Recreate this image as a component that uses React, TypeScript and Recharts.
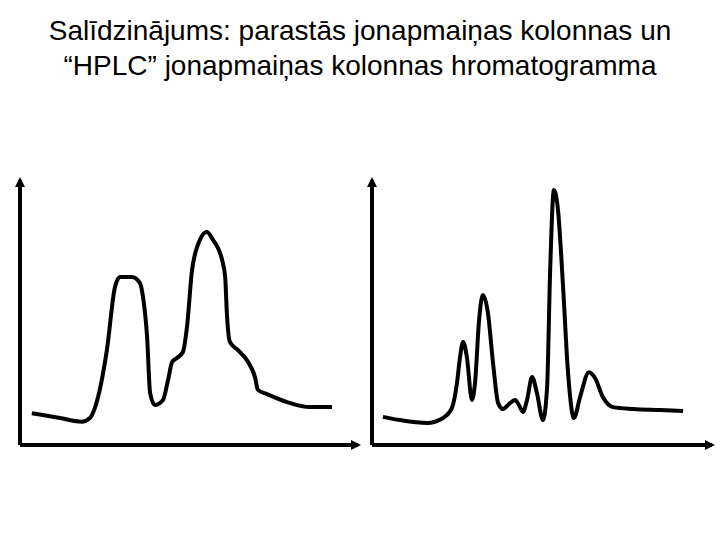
import { LineChart, Line, XAxis, YAxis } from "recharts"

// parastā jonapmaiņas kolonna (left)
const classicTime = [3.5, 11.8, 18.3, 20.7, 23.1, 25.7, 28.1, 29.6, 33.1, 35.5, 36.4, 37.6, 38.5, 39.9, 42.3, 43.8, 45.0, 46.4, 48.2, 49.4, 50.9, 52.4, 55.3, 57.1, 59.8, 60.7, 61.2, 62.1, 64.5, 67.5, 69.5, 70.4, 73.1, 79.0, 85.8, 92.3]
const classicSignal = [12.0, 10.2, 8.8, 10.2, 18.1, 35.8, 59.6, 63.4, 63.4, 61.1, 55.8, 40.8, 19.6, 15.1, 17.0, 24.5, 31.3, 32.8, 35.1, 44.5, 66.0, 74.7, 80.4, 77.4, 69.8, 63.4, 49.8, 38.9, 35.8, 31.3, 25.7, 20.8, 19.2, 16.2, 14.3, 14.3]

// HPLC jonapmaiņas kolonna (right)
const hplcTime = [3.2, 8.2, 16.2, 20.9, 23.5, 25.0, 25.9, 26.8, 27.9, 29.4, 30.3, 31.5, 32.6, 34.1, 35.6, 37.1, 38.5, 40.6, 42.1, 43.2, 44.4, 45.6, 47.1, 48.5, 50.3, 51.5, 52.4, 53.5, 54.7, 56.2, 57.6, 59.4, 61.2, 63.8, 65.6, 67.9, 70.9, 76.8, 84.7, 91.5]
const hplcSignal = [10.6, 9.4, 8.3, 10.2, 14.0, 23.4, 33.2, 38.9, 33.2, 17.0, 23.4, 47.2, 56.6, 49.8, 30.9, 15.8, 13.6, 15.8, 17.0, 15.1, 12.5, 17.0, 25.7, 19.6, 9.4, 21.9, 66.0, 96.2, 88.7, 59.6, 28.3, 10.2, 18.1, 27.5, 25.3, 18.1, 14.3, 13.6, 13.2, 12.8]

const titleLines = [
  "Salīdzinājums: parastās jonapmaiņas kolonnas un",
  "“HPLC” jonapmaiņas kolonnas hromatogramma",
]

const toRows = (t: number[], s: number[]) => t.map((x, i) => ({ t: x, s: s[i] }))

const axisStyle = { stroke: "#000", strokeWidth: 4 }

function Chromatogram({ rows, left, width, marginRight }: { rows: { t: number; s: number }[]; left: number; width: number; marginRight: number }) {
  return (
    <div style={{ position: "absolute", left, top: 165 }}>
      <LineChart width={width} height={290} data={rows} margin={{ top: 15, left: 6, right: marginRight, bottom: 6 }}>
        <XAxis
          type="number"
          dataKey="t"
          domain={[0, 100]}
          height={4}
          tick={false}
          tickLine={false}
          axisLine={{ ...axisStyle, markerEnd: "url(#arrowHead)" }}
        />
        <YAxis
          type="number"
          domain={[0, 100]}
          width={4}
          tick={false}
          tickLine={false}
          axisLine={{ ...axisStyle, markerStart: "url(#arrowHead)" }}
        />
        <Line
          dataKey="s"
          type="monotone"
          stroke="#000"
          strokeWidth={4}
          strokeLinejoin="round"
          dot={false}
          isAnimationActive={false}
        />
      </LineChart>
    </div>
  )
}

export default function App() {
  return (
    <div style={{ position: "absolute", left: 0, top: 0, width: 720, height: 540, background: "#fff", fontFamily: "'Liberation Sans', Arial, sans-serif" }}>
      <svg width={0} height={0} style={{ position: "absolute" }}>
        <defs>
          <marker id="arrowHead" viewBox="0 0 10 10" refX="7" refY="5" markerWidth="10" markerHeight="10" markerUnits="userSpaceOnUse" orient="auto-start-reverse">
            <path d="M0,0 L10,5 L0,10 z" fill="#000" />
          </marker>
        </defs>
      </svg>
      <div style={{ position: "absolute", top: 13, left: 0, width: 720, textAlign: "center", fontSize: 28, lineHeight: "35px", color: "#000" }}>
        {titleLines.map((l) => (
          <div key={l}>{l}</div>
        ))}
      </div>
      <Chromatogram rows={toRows(classicTime, classicSignal)} left={10} width={360} marginRight={12} />
      <Chromatogram rows={toRows(hplcTime, hplcSignal)} left={362} width={356} marginRight={6} />
    </div>
  )
}
